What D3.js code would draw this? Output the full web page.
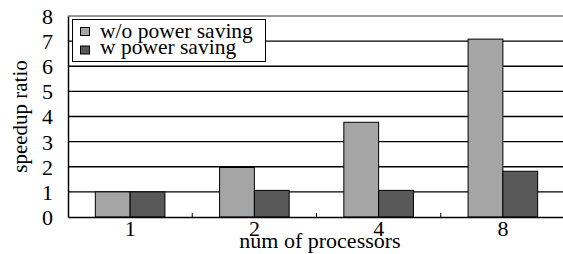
<html>
<head>
<meta charset="utf-8">
<script src="https://cdnjs.cloudflare.com/ajax/libs/d3/7.8.5/d3.min.js"></script>
<style>
body { margin: 0; background: #fff; }
svg text { font-family: "Liberation Serif", "Times New Roman", Times, serif; fill: #000; }
</style>
</head>
<body>
<div id="chart"></div>
<script>
var categories = ["1", "2", "4", "8"];
var seriesNames = ["w/o power saving", "w power saving"];
var withoutSaving = [1.0, 1.97, 3.77, 7.08];
var withSaving = [1.0, 1.06, 1.06, 1.82];
var yTicks = [0, 1, 2, 3, 4, 5, 6, 7, 8];
var colors = ["#a5a5a5", "#595959"];

var width = 563, height = 254;
var margin = {top: 16, right: -2, bottom: 37, left: 68};

var svg = d3.select("#chart").append("svg")
  .attr("width", width)
  .attr("height", height);

var x = d3.scaleBand()
  .domain(categories)
  .range([margin.left, width - margin.right])
  .paddingInner(0)
  .paddingOuter(0);

var x1 = d3.scaleBand()
  .domain([0, 1])
  .range([x.bandwidth() * 0.22, x.bandwidth() * 0.78]);

var y = d3.scaleLinear()
  .domain([0, 8])
  .range([height - margin.bottom, margin.top]);

// grid lines
svg.append("g").selectAll("line")
  .data(yTicks.filter(function(d) { return d > 0; }))
  .enter().append("line")
    .attr("x1", margin.left)
    .attr("x2", width)
    .attr("y1", function(d) { return y(d); })
    .attr("y2", function(d) { return y(d); })
    .attr("stroke", function(d) { return d === 8 ? "#777" : "#000"; })
    .attr("stroke-width", 1.3);

// bars
var data = categories.map(function(c, i) { return [withoutSaving[i], withSaving[i]]; });
var groups = svg.append("g").selectAll("g")
  .data(data)
  .enter().append("g")
    .attr("transform", function(d, i) { return "translate(" + x(categories[i]) + ",0)"; });

groups.selectAll("rect")
  .data(function(d) { return d; })
  .enter().append("rect")
    .attr("x", function(d, j) { return x1(j); })
    .attr("width", x1.bandwidth())
    .attr("y", function(d) { return y(d); })
    .attr("height", function(d) { return y(0) - y(d); })
    .attr("fill", function(d, j) { return colors[j]; })
    .attr("stroke", "#000")
    .attr("stroke-width", 1);

// y axis
var yAxis = svg.append("g")
  .attr("transform", "translate(" + margin.left + ",0)")
  .call(d3.axisLeft(y).tickValues(yTicks).tickSize(0).tickPadding(15));
yAxis.select(".domain").attr("stroke", "#000").attr("stroke-width", 1.5);
yAxis.selectAll("text").style("font-size", "22px").attr("dy", "0.34em");

// x axis
var xAxis = svg.append("g")
  .attr("transform", "translate(0," + y(0) + ")")
  .call(d3.axisBottom(x).tickSize(0).tickPadding(3));
xAxis.select(".domain").attr("stroke", "#000").attr("stroke-width", 1.5);
xAxis.selectAll("text").style("font-size", "22px");

// small separators between categories
svg.append("g").selectAll("line")
  .data(categories.slice(1))
  .enter().append("line")
    .attr("x1", function(d) { return x(d); })
    .attr("x2", function(d) { return x(d); })
    .attr("y1", y(0))
    .attr("y2", y(0) - 4)
    .attr("stroke", "#000")
    .attr("stroke-width", 1);

// axis titles
svg.append("text")
  .attr("x", 320)
  .attr("y", 248)
  .attr("text-anchor", "middle")
  .style("font-size", "22px")
  .text("num of processors");

svg.append("text")
  .attr("transform", "translate(27," + ((margin.top + y(0)) / 2) + ") rotate(-90)")
  .attr("text-anchor", "middle")
  .style("font-size", "21px")
  .text("speedup ratio");

// legend
var legend = svg.append("g");
legend.append("rect")
  .attr("x", 72.5).attr("y", 19.5)
  .attr("width", 193).attr("height", 42)
  .attr("fill", "#fff")
  .attr("stroke", "#000");
seriesNames.forEach(function(name, i) {
  legend.append("rect")
    .attr("x", 80.5).attr("y", 27.5 + i * 18.5)
    .attr("width", 9).attr("height", 8)
    .attr("fill", colors[i])
    .attr("stroke", "#000");
  legend.append("text")
    .attr("x", 100).attr("y", 38 + i * 16)
    .style("font-size", "21.5px")
    .text(name);
});
</script>
</body>
</html>
